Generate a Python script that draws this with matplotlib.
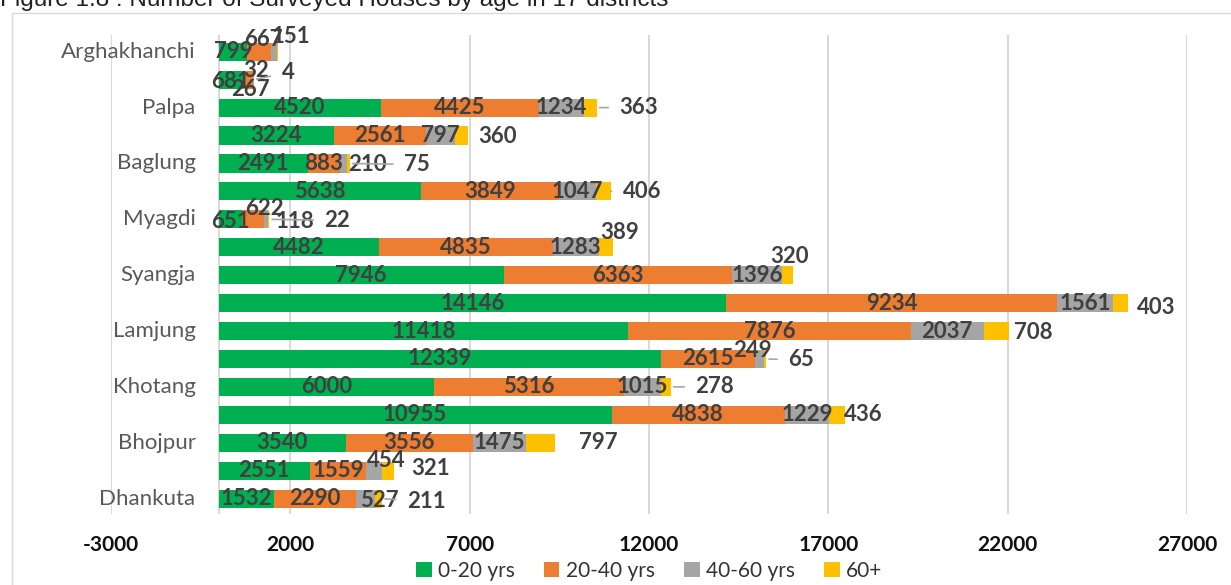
import numpy as np
import matplotlib
matplotlib.use("Agg")
import matplotlib.pyplot as plt
from matplotlib.patches import Rectangle

plt.rcParams['font.family'] = ['Lato', 'DejaVu Sans']
plt.rcParams['axes.unicode_minus'] = False

# Data (top to bottom); only every other district is named on the axis
districts = ['Arghakhanchi', '', 'Palpa', '', 'Baglung', '', 'Myagdi', '',
             'Syangja', '', 'Lamjung', '', 'Khotang', '', 'Bhojpur', '', 'Dhankuta']
age_0_20 = [799, 681, 4520, 3224, 2491, 5638, 651, 4482, 7946, 14146, 11418,
            12339, 6000, 10955, 3540, 2551, 1532]
age_20_40 = [667, 267, 4425, 2561, 883, 3849, 622, 4835, 6363, 9234, 7876,
             2615, 5316, 4838, 3556, 1559, 2290]
age_40_60 = [151, 32, 1234, 797, 210, 1047, 118, 1283, 1396, 1561, 2037,
             249, 1015, 1229, 1475, 454, 527]
age_60p = [40, 4, 363, 360, 75, 406, 22, 389, 320, 403, 708,
           65, 278, 436, 797, 321, 211]
series_names = ['0-20 yrs', '20-40 yrs', '40-60 yrs', '60+']
colors = ['#00B050', '#ED7D31', '#A5A5A5', '#FFC000']

series = [age_0_20, age_20_40, age_40_60, age_60p]
rows = np.arange(len(districts))

# label tweaks, in pixels: (row, series) -> (dx, dy) from segment centre
moved = {(0, 1): (4, 12), (0, 2): (17, 15), (1, 0): (0, -2), (1, 1): (3, -10),
         (1, 2): (3, 9), (4, 2): (24, -1), (6, 0): (0, -2), (6, 1): (11, 11),
         (6, 2): (29, -2), (7, 3): (14, 15), (8, 3): (2, 19), (11, 2): (-7, 8),
         (15, 2): (12, 10), (16, 2): (14, -2)}
# labels set outside the bar: (row, series) -> (dx, dy, leader line) from segment end
outside = {(1, 3): (34, 7, True), (2, 3): (42, 0, True), (3, 3): (30, -1, False),
           (4, 3): (67, -1, True), (5, 3): (31, 0, True), (6, 3): (68, -1, True),
           (9, 3): (29, -4, False), (10, 3): (24, -1, False), (11, 3): (35, -1, True),
           (12, 3): (44, 0, True), (13, 3): (19, 0, False), (14, 3): (44, 0, False),
           (15, 3): (37, 2, False), (16, 3): (44, -3, True)}
hidden = {(0, 3)}

fig = plt.figure(figsize=(12.31, 5.85), dpi=100)
fig.patches.append(Rectangle((12 / 1231, -0.1), 1.1, 1 - 13 / 585 + 0.1,
                             transform=fig.transFigure, fill=False,
                             edgecolor='#D9D9D9', linewidth=1))
fig.text(0.0, 1 - 6 / 585, 'Figure 1.8 : Number of Surveyed Houses by age in 17 districts',
         fontsize=17.5, family='Liberation Sans', va='baseline', ha='left', color='#222222')

ax = fig.add_axes([111 / 1231, 1 - 514 / 585, (1187 - 111) / 1231, (514 - 35) / 585])

left = np.zeros(len(districts))
for j, vals in enumerate(series):
    vals = np.array(vals, dtype=float)
    ax.barh(rows, vals, left=left, height=0.65, color=colors[j],
            label=series_names[j], zorder=2)
    for i in rows:
        if (i, j) in hidden:
            continue
        txt = str(int(vals[i]))
        kw = dict(ha='center', va='center', fontsize=16, fontweight='bold',
                  color='#404040', textcoords='offset pixels', zorder=4)
        if (i, j) in outside:
            dx, dy, lead = outside[(i, j)]
            end = left[i] + vals[i]
            ap = dict(arrowstyle='-', color='#A6A6A6', lw=1.2,
                      shrinkA=6, shrinkB=2) if lead else None
            ax.annotate(txt, xy=(end, i), xytext=(dx, dy), arrowprops=ap, **kw)
        else:
            dx, dy = moved.get((i, j), (0, 0))
            ax.annotate(txt, xy=(left[i] + vals[i] / 2, i), xytext=(dx, dy), **kw)
    left += vals

ax.set_xlim(-3000, 27000)
ax.set_ylim(16.55, -0.6)
ax.set_xticks(np.arange(-3000, 27001, 5000))
ax.grid(axis='x', color='#D9D9D9', linewidth=1.5, zorder=0)
ax.axvline(0, color='#D9D9D9', linewidth=1.5, zorder=1)
ax.set_axisbelow(True)

# category labels sit next to the vertical axis at 0
ax.set_yticks([])
for i in rows[::2]:
    ax.annotate(districts[i], xy=(0, i), xytext=(-23, 0), textcoords='offset pixels',
                ha='right', va='center', fontsize=16, color='#595959')

ax.tick_params(axis='both', length=0)
ax.tick_params(axis='x', pad=15)
for lab in ax.get_xticklabels():
    lab.set_fontsize(15)
    lab.set_fontweight('bold')
    lab.set_color('#111111')
for s in ax.spines.values():
    s.set_visible(False)

ax.legend(loc='center', bbox_to_anchor=(0.5, -(571 - 514) / 479), ncol=4,
          frameon=False, fontsize=15, handlelength=0.75, handleheight=0.75,
          handletextpad=0.3, columnspacing=1.4, labelcolor='#333333')

fig.savefig('out.png', dpi=100)
